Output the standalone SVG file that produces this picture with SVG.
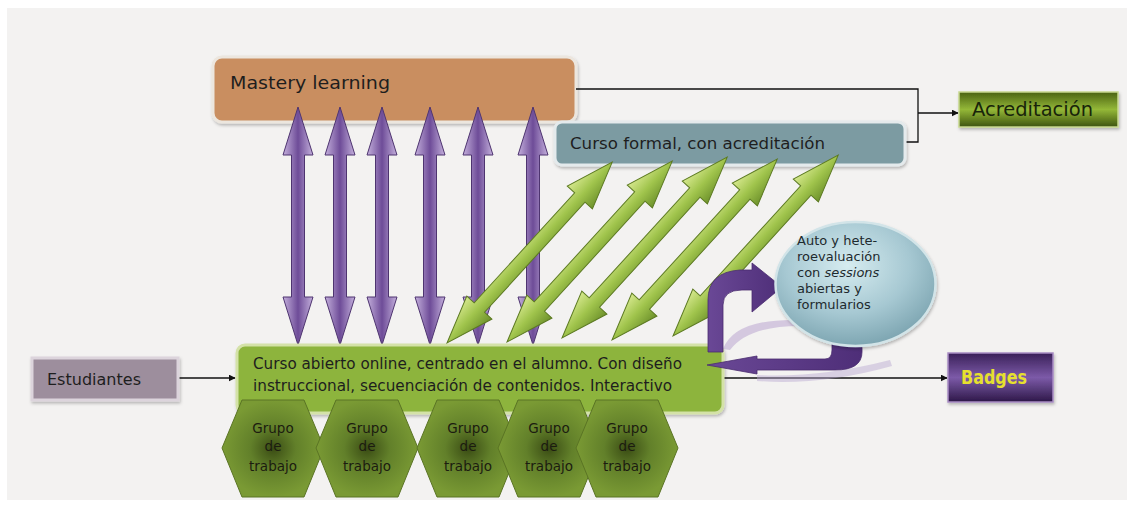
<svg xmlns="http://www.w3.org/2000/svg" width="1134" height="508" viewBox="0 0 1134 508">
<defs>
<style>
text{font-family:"DejaVu Sans","Open Sans",sans-serif;fill:#1e1e1e}
.conn{fill:none;stroke:#111;stroke-width:1.3}
.purp{fill:url(#gPurple);stroke:#4e3470;stroke-width:1}
.grn{fill:url(#gGreen);stroke:#5c7a22;stroke-width:1}
.hex{fill:url(#gHex);stroke:#5a7424;stroke-width:1}
.hext{font-size:13.5px;text-anchor:middle;fill:#1c1c10}
.circ{font-size:13px;fill:#1e2a2e}
.badge{fill:#e6e02e;font-weight:600}
.acr{fill:#18240a}
</style>
<linearGradient id="gPurple" x1="0" y1="0" x2="1" y2="0">
<stop offset="0" stop-color="#c4b0dc"/><stop offset="0.5" stop-color="#6e4c98"/><stop offset="1" stop-color="#c4b0dc"/>
</linearGradient>
<linearGradient id="gGreen" x1="0" y1="0" x2="0" y2="1">
<stop offset="0" stop-color="#d6e88e"/><stop offset="0.5" stop-color="#a0c44c"/><stop offset="1" stop-color="#6e922c"/>
</linearGradient>
<radialGradient id="gHex" cx="0.5" cy="0.5" r="0.5">
<stop offset="0" stop-color="#3a4c14"/><stop offset="0.45" stop-color="#62802a"/><stop offset="1" stop-color="#7a9a34"/>
</radialGradient>
<linearGradient id="gAcr" x1="0" y1="0" x2="0" y2="1">
<stop offset="0" stop-color="#4a6212"/><stop offset="0.5" stop-color="#94b838"/><stop offset="1" stop-color="#3e5410"/>
</linearGradient>
<linearGradient id="gBadge" x1="0" y1="0" x2="0" y2="1">
<stop offset="0" stop-color="#3a2058"/><stop offset="0.5" stop-color="#7c5aa8"/><stop offset="1" stop-color="#2e1848"/>
</linearGradient>
<radialGradient id="gCirc" cx="0.45" cy="0.35" r="0.65">
<stop offset="0" stop-color="#d6ecf0"/><stop offset="0.6" stop-color="#a6c8d2"/><stop offset="1" stop-color="#7ea6b2"/>
</radialGradient>
<linearGradient id="gCurve" x1="0" y1="0" x2="1" y2="0">
<stop offset="0" stop-color="#6a4896"/><stop offset="1" stop-color="#4e2e78"/>
</linearGradient>
<marker id="arr" viewBox="0 0 10 10" refX="9" refY="5" markerWidth="7" markerHeight="7" orient="auto" markerUnits="userSpaceOnUse">
<path d="M0,0 L10,5 L0,10 Z" fill="#111"/>
</marker>
<path id="vArrow" d="M0,107 L15,155 L6.5,155 L6.5,297 L15,297 L0,345 L-15,297 L-6.5,297 L-6.5,155 L-15,155 Z"/>
<path id="dArrow" d="M0,0 L48,-17 L48,-7 L197,-7 L197,-17 L245,0 L197,17 L197,7 L48,7 L48,17 Z"/>
<filter id="sh" x="-10%" y="-20%" width="120%" height="150%">
<feDropShadow dx="1" dy="2" stdDeviation="1.5" flood-color="#000" flood-opacity="0.25"/>
</filter>
</defs>

<rect x="0" y="0" width="1134" height="508" fill="#ffffff"/>
<rect x="7" y="8" width="1120" height="492" fill="#f3f2f1"/>

<g id="mastery">
<rect x="213" y="57" width="363" height="65" rx="9" fill="#c98e61" stroke="#ece6de" stroke-width="3" filter="url(#sh)"/>
<text x="230" y="89" font-size="18" textLength="160" lengthAdjust="spacingAndGlyphs">Mastery learning</text>
</g>

<g id="connectors">
<path class="conn" d="M576,89 H918 V142 H905"/>
<path class="conn" d="M918,113 H958" marker-end="url(#arr)"/>
<path class="conn" d="M178,378 H235" marker-end="url(#arr)"/>
<path class="conn" d="M723,378 H947" marker-end="url(#arr)"/>
</g>

<g id="curso-formal">
<rect x="555" y="122" width="350" height="43" rx="7" fill="#7b9ba2" stroke="#e4eaec" stroke-width="3" filter="url(#sh)"/>
<text x="570" y="149" font-size="16" textLength="255" lengthAdjust="spacingAndGlyphs">Curso formal, con acreditación</text>
</g>

<g id="acreditacion">
<rect x="959" y="92" width="159" height="35" fill="url(#gAcr)" stroke="#c8d890" stroke-width="1.5" filter="url(#sh)"/>
<text class="acr" x="972" y="116" font-size="19" textLength="121" lengthAdjust="spacingAndGlyphs">Acreditación</text>
</g>

<g id="purple-arrows">
<use href="#vArrow" x="298" class="purp"/>
<use href="#vArrow" x="340" class="purp"/>
<use href="#vArrow" x="382" class="purp"/>
<use href="#vArrow" x="430" class="purp"/>
<use href="#vArrow" x="478" class="purp"/>
<use href="#vArrow" x="533" class="purp"/>
</g>

<g id="curso-abierto">
<rect x="237" y="345" width="486" height="68" rx="8" fill="#8db43c" stroke="#d4e2a8" stroke-width="3" filter="url(#sh)"/>
<text x="253" y="369" font-size="15" textLength="429" lengthAdjust="spacingAndGlyphs">Curso abierto online, centrado en el alumno. Con diseño</text>
<text x="253" y="391" font-size="15" textLength="419" lengthAdjust="spacingAndGlyphs">instruccional, secuenciación de contenidos. Interactivo</text>
</g>

<g id="green-arrows">
<use href="#dArrow" class="grn" transform="translate(447,343) rotate(-47.6)"/>
<use href="#dArrow" class="grn" transform="translate(507,342) rotate(-47.6)"/>
<use href="#dArrow" class="grn" transform="translate(562,338) rotate(-47.6)"/>
<use href="#dArrow" class="grn" transform="translate(612,340) rotate(-47.6)"/>
<use href="#dArrow" class="grn" transform="translate(673,336) rotate(-47.6)"/>
</g>

<g id="estudiantes">
<rect x="32" y="358" width="146" height="42" fill="#9d8e9d" stroke="#dcd4dc" stroke-width="3" filter="url(#sh)"/>
<text x="47" y="385" font-size="16" textLength="94" lengthAdjust="spacingAndGlyphs">Estudiantes</text>
</g>

<g id="badges">
<rect x="948" y="353" width="105" height="49" fill="url(#gBadge)" stroke="#a88cc4" stroke-width="1.5" filter="url(#sh)"/>
<text class="badge" x="961" y="384" font-size="19" textLength="66" lengthAdjust="spacingAndGlyphs">Badges</text>
</g>

<g id="feedback-loop">
<path d="M723,349 Q735,318 800,320 L800,326 Q748,326 730,350 Z" fill="#b9a6d0" opacity="0.55"/>
<path d="M757,375 Q820,378 890,360 L892,366 Q820,386 757,381 Z" fill="#b9a6d0" opacity="0.45"/>
<path d="M708,352 L708,300 Q708,272 740,270 L752,270 L752,263 L782,287 L752,312 L752,290 L742,290 Q723,290 723,305 L723,352 Z" fill="url(#gCurve)" stroke="#4a2c70" stroke-width="0.8"/>
<path d="M832,340 L862,340 L862,352 Q862,370 835,370 L757,370 L757,374 L707,365 L757,356 L757,359 L825,359 Q832,359 832,350 Z" fill="url(#gCurve)" stroke="#4a2c70" stroke-width="0.8"/>
</g>

<g id="autoevaluacion">
<ellipse cx="855.5" cy="284" rx="80" ry="62" fill="url(#gCirc)" stroke="#d2e4e8" stroke-width="2.5" filter="url(#sh)"/>
<text class="circ" x="797" y="245">Auto y hete-</text>
<text class="circ" x="797" y="261">roevaluación</text>
<text class="circ" x="797" y="277">con <tspan font-style="italic">sessions</tspan></text>
<text class="circ" x="797" y="293">abiertas y</text>
<text class="circ" x="797" y="309">formularios</text>
</g>

<g id="grupo1">
<polygon class="hex" points="222,448 242,400 304,400 324,448 304,497 242,497"/>
<text class="hext" x="273" y="433">Grupo</text><text class="hext" x="273" y="451">de</text><text class="hext" x="273" y="471">trabajo</text>
</g>
<g id="grupo2">
<polygon class="hex" points="316,448 336,400 398,400 418,448 398,497 336,497"/>
<text class="hext" x="367" y="433">Grupo</text><text class="hext" x="367" y="451">de</text><text class="hext" x="367" y="471">trabajo</text>
</g>
<g id="grupo3">
<polygon class="hex" points="417,448 437,400 499,400 519,448 499,497 437,497"/>
<text class="hext" x="468" y="433">Grupo</text><text class="hext" x="468" y="451">de</text><text class="hext" x="468" y="471">trabajo</text>
</g>
<g id="grupo4">
<polygon class="hex" points="498,448 518,400 580,400 600,448 580,497 518,497"/>
<text class="hext" x="549" y="433">Grupo</text><text class="hext" x="549" y="451">de</text><text class="hext" x="549" y="471">trabajo</text>
</g>
<g id="grupo5">
<polygon class="hex" points="576,448 596,400 658,400 678,448 658,497 596,497"/>
<text class="hext" x="627" y="433">Grupo</text><text class="hext" x="627" y="451">de</text><text class="hext" x="627" y="471">trabajo</text>
</g>
</svg>
